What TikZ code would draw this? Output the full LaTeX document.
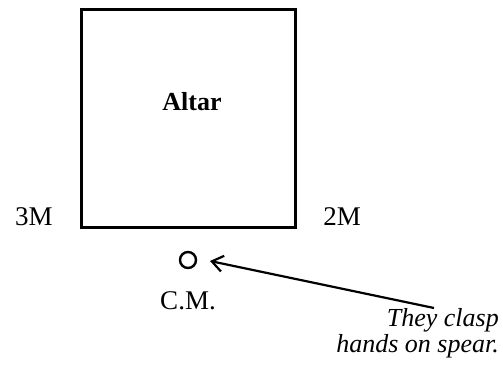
\documentclass[tikz,border=0pt]{standalone}
\usepackage{fontspec}
\setmainfont{Liberation Serif}
\usetikzlibrary{arrows.meta}
\begin{document}
\begin{tikzpicture}[x=1pt,y=-1pt,
  lbl/.style={font=\fontsize{27}{27}\selectfont, inner sep=0pt, anchor=base},
  itl/.style={font=\fontsize{26}{26}\selectfont\itshape, inner sep=0pt, anchor=base east},
  wall/.style={draw, line width=3pt, inner sep=0pt, minimum width=214pt, minimum height=218pt},
  ptr/.style={line width=2.2pt, -{Straight Barb[length=11pt,width=16pt,line width=2.2pt]}}]
\useasboundingbox (0,0) rectangle (503,364);
\node[wall] (altarbox) at (188,118) {};
\node[lbl, font=\fontsize{26}{26}\selectfont\bfseries] (altar) at (192,110) {Altar};
\node[lbl] (m3) at (34,225) {3M};
\node[lbl] (m2) at (342,225) {2M};
\node[draw, circle, line width=2.4pt, minimum size=16pt, inner sep=0pt] (cm) at (188,260) {};
\node[lbl] (cmlabel) at (188,309) {C.M.};
\node[itl] (line1) at (499,326) {They clasp};
\node[itl] (line2) at (499,352) {hands on spear.};
\coordinate (tail) at (434,308);
\coordinate (tip) at (210,261);
\draw[ptr] (tail) -- (tip);
\end{tikzpicture}
\end{document}
